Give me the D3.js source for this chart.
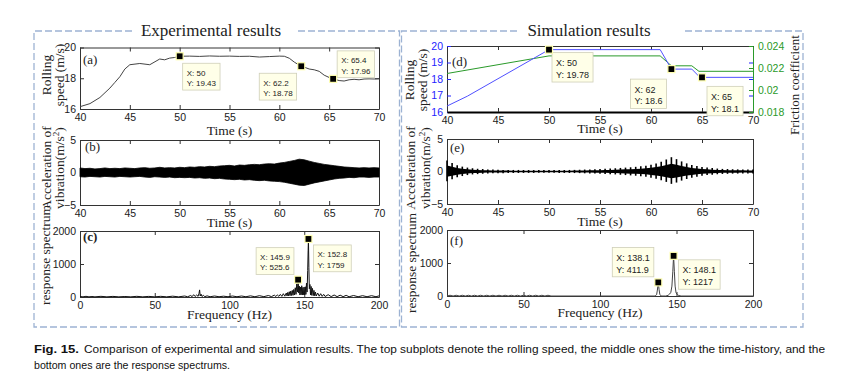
<!DOCTYPE html>
<html><head><meta charset="utf-8">
<script src="https://cdn.jsdelivr.net/npm/d3@7"></script>
<style>body{margin:0;background:#fff}svg{display:block}</style>
</head><body>
<svg id="c" width="848" height="378"></svg>
<script>
// ---------------- DATA ----------------
const timeTicks = [40,45,50,55,60,65,70];
const freqTicks = [0,50,100,150,200];
const speedTicks = [16,18,20];
const simSpeedTicks = [16,17,18,19,20];
const frictionTicks = [0.018,0.02,0.022,0.024];
const frictionTickLabels = ["0.018","0.02","0.022","0.024"];
const vibTicks = [-5,0,5];
const specTicks = [0,1000,2000];

// (a) experimental rolling speed
const expSpeedT = [40,41,42,43,43.5,44,44.5,45,46,47,48,48.5,49,49.5,50,51,52,53,54,55,56,57,58,59,60,60.5,61,61.5,62,62.2,62.5,63,63.5,64,64.5,65,65.4,66,66.5,67,67.5,68,68.5,69,69.5,70];
const expSpeed  = [16.15,16.35,16.75,17.36,17.73,18.1,18.6,18.88,18.96,18.88,19.25,19.2,19.31,19.35,19.43,19.44,19.42,19.45,19.43,19.44,19.42,19.43,19.38,19.41,19.44,19.43,19.3,19.05,18.85,18.78,18.72,18.6,18.55,18.45,18.2,18.05,17.96,17.85,17.82,17.9,17.93,17.9,17.95,17.96,17.95,17.97];

// (b) experimental vibration envelope (upper / lower)
const vibT = [40,40.5,41,41.5,42,42.5,43,43.5,44,44.5,45,45.5,46,46.5,47,47.5,48,48.5,49,49.5,50,50.5,51,51.5,52,52.5,53,53.5,54,54.5,55,55.5,56,56.5,57,57.5,58,58.5,59,59.5,60,60.5,61,61.5,62,62.5,63,63.5,64,64.5,65,65.5,66,66.5,67,67.5,68,68.5,69,69.5,70];
const expVibUp = [0.7,0.6,0.65,0.55,0.6,0.7,0.6,0.65,0.6,0.7,0.65,0.6,0.7,0.75,0.65,0.7,0.8,0.7,0.75,0.7,0.8,0.75,0.85,0.8,0.9,0.85,0.95,0.9,1.0,1.05,1.1,1.0,1.15,1.1,1.2,1.25,1.2,1.3,1.35,1.3,1.45,1.55,1.7,1.85,2.05,1.95,1.75,1.55,1.4,1.25,1.15,1.05,0.95,0.85,0.8,0.75,0.7,0.75,0.7,0.75,0.7];
const expVibDn = [-0.65,-0.7,-0.6,-0.65,-0.7,-0.6,-0.65,-0.7,-0.6,-0.65,-0.7,-0.65,-0.6,-0.7,-0.75,-0.65,-0.7,-0.75,-0.7,-0.8,-0.75,-0.8,-0.75,-0.85,-0.8,-0.9,-0.85,-0.95,-0.9,-1.0,-1.05,-1.1,-1.05,-1.15,-1.1,-1.2,-1.25,-1.2,-1.3,-1.35,-1.4,-1.5,-1.65,-1.8,-1.95,-2.0,-1.8,-1.6,-1.45,-1.3,-1.15,-1.0,-0.9,-0.85,-0.75,-0.8,-0.7,-0.7,-0.75,-0.7,-0.7];

// (c) experimental response spectrum
const expFreq = [0,2,4,6,8,10,14,18,22,26,30,34,38,42,46,50,54,58,62,66,70,72,74,75,76,77,78,79,79.6,80,80.4,81,81.6,82.5,83.5,85,87,90,93,96,99,102,105,108,111,114,117,120,123,126,128,130,131,132,133,134,135,136,137,138,138.5,139,139.5,140,140.5,141,141.5,142,142.5,143,143.5,144,144.5,145,145.5,145.9,146.3,146.7,147.1,147.5,147.9,148.3,148.7,149.1,149.5,149.9,150.3,150.7,151.1,151.5,151.9,152.3,152.6,152.8,153.1,153.4,153.8,154.2,154.6,155,155.5,156,156.5,157,157.5,158,159,160,161,162,163,164,166,168,170,172,174,176,178,180,183,186,189,192,195,198,200];
const expAmp  = [15,5,20,5,15,5,20,5,18,5,15,5,20,5,18,5,20,5,25,5,30,8,45,10,70,15,60,20,110,215,30,85,15,50,10,35,8,30,8,25,8,30,8,30,8,35,8,40,10,45,12,55,15,65,20,80,20,100,25,120,30,140,35,160,40,180,45,200,50,230,60,280,80,400,150,525.6,120,330,60,300,70,340,60,290,70,300,60,310,80,420,150,800,1400,1759,900,250,380,60,320,50,260,40,200,35,150,30,120,25,100,20,80,15,70,12,60,10,55,10,50,8,45,8,40,8,40,8,35];

// (d) simulation rolling speed and friction coefficient
const simSpeedT = [40,42,50,60.9,62,64,64.8,65,70];
const simSpeed  = [16.36,16.96,19.78,19.78,18.6,18.6,18.1,18.1,18.1];
const frictionT = [40,50,60.9,62,64,64.7,70];
const friction  = [0.0215,0.0231,0.0231,0.0222,0.0222,0.0217,0.0217];

// (e) simulation vibration envelope
const simVibUp = [1.7,1.3,0.95,0.75,0.6,0.5,0.42,0.38,0.32,0.3,0.27,0.25,0.25,0.24,0.24,0.23,0.23,0.22,0.22,0.22,0.22,0.22,0.23,0.23,0.24,0.25,0.27,0.3,0.32,0.35,0.38,0.42,0.45,0.5,0.55,0.6,0.65,0.72,0.8,0.9,1.05,1.25,1.5,1.85,2.2,1.9,1.55,1.25,1.0,0.85,0.7,0.6,0.52,0.45,0.4,0.38,0.35,0.33,0.32,0.3,0.3];
const simVibDn = [-1.5,-1.2,-0.9,-0.7,-0.55,-0.45,-0.4,-0.35,-0.3,-0.28,-0.25,-0.25,-0.24,-0.23,-0.23,-0.22,-0.22,-0.22,-0.21,-0.21,-0.21,-0.21,-0.22,-0.22,-0.23,-0.24,-0.25,-0.28,-0.3,-0.32,-0.35,-0.38,-0.42,-0.45,-0.5,-0.55,-0.6,-0.65,-0.72,-0.8,-0.95,-1.1,-1.35,-1.6,-1.9,-1.7,-1.4,-1.15,-0.95,-0.8,-0.65,-0.55,-0.5,-0.42,-0.38,-0.36,-0.33,-0.32,-0.3,-0.3,-0.3];

// (f) simulation response spectrum
const simFreq = [0,2,4,6,8,10,12,14,16,18,20,22,24,26,28,30,32,34,36,38,40,42,44,46,48,50,52,54,56,58,60,62,64,66,68,100,130,136,137,137.5,138.1,138.6,139.1,140,143,144.5,145.5,146.3,147,147.6,148.1,148.6,149.1,149.7,150.5,151.5,153,200];
const simAmp  = [0,22,0,22,0,22,0,22,0,22,0,22,0,22,0,22,0,22,0,22,0,22,0,22,0,22,0,22,0,22,0,22,0,22,0,0,0,0,40,180,411.9,200,50,0,0,20,60,110,300,750,1217,750,300,100,40,15,0,0];

// data tips
const tipsA = [{x:50,y:19.43,t:["X: 50","Y: 19.43"]},{x:62.2,y:18.78,t:["X: 62.2","Y: 18.78"]},{x:65.4,y:17.96,t:["X: 65.4","Y: 17.96"]}];
const tipsC = [{x:145.9,y:525.6,t:["X: 145.9","Y: 525.6"]},{x:152.8,y:1759,t:["X: 152.8","Y: 1759"]}];
const tipsD = [{x:50,y:19.78,t:["X: 50","Y: 19.78"]},{x:62,y:18.6,t:["X: 62","Y: 18.6"]},{x:65,y:18.1,t:["X: 65","Y: 18.1"]}];
const tipsF = [{x:138.1,y:411.9,t:["X: 138.1","Y: 411.9"]},{x:148.1,y:1217,t:["X: 148.1","Y: 1217"]}];

// ---------------- LAYOUT / STYLE ----------------
const SANS = "'Liberation Sans', Arial, sans-serif";
const SERIF = "'Liberation Serif', 'Times New Roman', serif";
const svg = d3.select("#c");
const L = {x0:80, x1:379}, R = {x0:447, x1:753};
const tipOff = {a:[[3,7],[-42,7],[4,-28]], c:[[-42,-32],[5,6]], d:[[3,3],[-41,10],[5,9]], f:[[-46,-35],[5,4]]};
const fmt = d => String(d).replace("-", "\u2212");

function styleAxis(sel, color){
  sel.select(".domain").attr("stroke", "#333").attr("stroke-width",1);
  sel.selectAll(".tick line").attr("stroke", color||"#333");
  sel.selectAll(".tick text").attr("font-family", SANS).attr("font-size", 10.5).attr("fill", color||"#1a1a1a");
}
function frame(x, y, xt, yt, opt={}){
  const g = svg.append("g");
  const [x0,x1] = x.range(), [yb,yt0] = y.range();
  g.append("g").attr("transform",`translate(0,${yt0})`)
    .call(d3.axisTop(x).tickValues(xt).tickSize(-4).tickSizeOuter(0).tickFormat("")).call(s=>styleAxis(s));
  if(!opt.noRight) g.append("g").attr("transform",`translate(${x1},0)`)
    .call(d3.axisRight(y).tickValues(yt).tickSize(-4).tickSizeOuter(0).tickFormat("")).call(s=>styleAxis(s, opt.rightTickColor));
  g.append("g").attr("transform",`translate(${x0},0)`)
    .call(d3.axisLeft(y).tickValues(yt).tickSize(-4).tickSizeOuter(0).tickPadding(4).tickFormat(fmt)).call(s=>styleAxis(s, opt.yColor))
    .call(s=>s.select(".domain").attr("stroke","#333"));
  const bx = g.append("g").attr("transform",`translate(0,${yb})`)
    .call(d3.axisBottom(x).tickValues(xt).tickSize(-4).tickSizeOuter(0).tickPadding(5).tickFormat(fmt)).call(s=>styleAxis(s));
  if(opt.thickBottom) bx.select(".domain").attr("stroke","#000").attr("stroke-width",2);
  return g;
}
function tips(g, x, y, list, offs, fs){
  list.forEach((d,i)=>{
    const px = x(d.x), py = y(d.y);
    const bx = px + offs[i][0], by = py + offs[i][1];
    const tg = g.append("g");
    const rect = tg.append("rect").attr("x",bx).attr("y",by).attr("fill","#ffffe8").attr("stroke","#cfcfb8").attr("stroke-width",0.8);
    let w = 0;
    d.t.forEach((s,j)=>{
      const t = tg.append("text").attr("x",bx+4).attr("y",by+4+fs*(j+1)*1.3-fs*0.25)
        .attr("font-family",SANS).attr("font-size",fs).attr("fill","#222").text(s);
      w = Math.max(w, t.node().getComputedTextLength());
    });
    rect.attr("width", w+8).attr("height", fs*2.6+6);
    g.append("rect").attr("x",px-3.5).attr("y",py-3.5).attr("width",7).attr("height",7)
      .attr("fill","#000").attr("stroke","#ffffb0").attr("stroke-width",1.2);
  });
}
function vlabel(x, y, lines, fs){
  return svg.append("text").attr("transform",`translate(${x},${y}) rotate(-90)`)
    .attr("text-anchor","middle").attr("font-family",SERIF).attr("font-size",fs||13.5).attr("fill","#222");
}
function hlabel(x, y, s, fs){
  svg.append("text").attr("x",x).attr("y",y).attr("text-anchor","middle").attr("font-family",SERIF)
    .attr("font-size",fs||13.5).attr("fill","#222").text(s);
}
function panelTag(x,y,s,bold){
  svg.append("text").attr("x",x).attr("y",y).attr("font-family",SERIF).attr("font-size",13)
    .attr("font-weight",bold?"bold":"normal").attr("fill","#222").text(s);
}

// ---------------- BORDERS & TITLES ----------------
function dashedBox(x0,y0,x1,y1,g0,g1){
  const p = `M${g0},${y0}H${x0}V${y1}H${x1}V${y0}H${g1}`;
  svg.append("path").attr("d",p).attr("fill","none").attr("stroke","#9db3d3").attr("stroke-width",1.3).attr("stroke-dasharray","7,3");
}
dashedBox(34,31,399.5,327,132,297);
dashedBox(401.5,31,803,327,517,682);
svg.append("text").attr("x",211).attr("y",36).attr("text-anchor","middle").attr("font-family",SERIF).attr("font-size",17).attr("fill","#222").text("Experimental results");
svg.append("text").attr("x",589).attr("y",36).attr("text-anchor","middle").attr("font-family",SERIF).attr("font-size",17).attr("fill","#222").text("Simulation results");

// ---------------- (a) ----------------
{
  const x = d3.scaleLinear().domain([40,70]).range([L.x0,L.x1]);
  const y = d3.scaleLinear().domain([16,20]).range([109,47.5]);
  const g = frame(x,y,timeTicks,speedTicks);
  g.append("path").datum(expSpeedT.map((t,i)=>[t,expSpeed[i]]))
    .attr("d",d3.line().x(d=>x(d[0])).y(d=>y(d[1]))).attr("fill","none").attr("stroke","#444").attr("stroke-width",1);
  tips(g,x,y,tipsA,tipOff.a,8);
  panelTag(83,64,"(a)");
  hlabel((L.x0+L.x1)/2,135,"Time (s)");
  vlabel(51,75).text("Rolling");
  vlabel(64,75).text("speed (m/s)");
}
// ---------------- (b) ----------------
{
  const x = d3.scaleLinear().domain([40,70]).range([L.x0,L.x1]);
  const y = d3.scaleLinear().domain([-5,5]).range([205,140]);
  const g = frame(x,y,timeTicks,vibTicks);
  g.append("path").datum(vibT.map((t,i)=>[t,expVibUp[i],expVibDn[i]]))
    .attr("d",d3.area().x(d=>x(d[0])).y0(d=>y(d[2])).y1(d=>y(d[1]))).attr("fill","#000").attr("stroke","#000").attr("stroke-width",0.8);
  panelTag(85,151,"(b)");
  hlabel((L.x0+L.x1)/2,227,"Time (s)");
  vlabel(51,168).text("Acceleration of");
  const v = vlabel(64,168); v.append("tspan").text("vibration(m/s"); v.append("tspan").attr("baseline-shift","super").attr("font-size",9).text("2"); v.append("tspan").text(")");
}
// ---------------- (c) ----------------
{
  const x = d3.scaleLinear().domain([0,200]).range([L.x0,L.x1]);
  const y = d3.scaleLinear().domain([0,2000]).range([297,231]);
  const g = frame(x,y,freqTicks,specTicks);
  g.append("path").datum(expFreq.map((f,i)=>[f,expAmp[i]]))
    .attr("d",d3.line().x(d=>x(d[0])).y(d=>y(d[1]))).attr("fill","none").attr("stroke","#111").attr("stroke-width",1);
  tips(g,x,y,tipsC,tipOff.c,8);
  panelTag(83,241,"(c)",true);
  hlabel((L.x0+L.x1)/2,319,"Frequency (Hz)");
  vlabel(50,255).text("response spectrum");
}
// ---------------- (d) ----------------
{
  const x = d3.scaleLinear().domain([40,70]).range([R.x0,R.x1]);
  const y = d3.scaleLinear().domain([16,20]).range([112,46]);
  const y2 = d3.scaleLinear().domain([0.018,0.024]).range([112,46]);
  const g = frame(x,y,timeTicks,simSpeedTicks,{yColor:"#2323ff",rightTickColor:"#2323ff",thickBottom:true});
  const ra = g.append("g").attr("transform",`translate(${R.x1},0)`)
    .call(d3.axisRight(y2).tickValues(frictionTicks).tickSize(-4).tickSizeOuter(0).tickPadding(5).tickFormat((d,i)=>frictionTickLabels[i]));
  styleAxis(ra,"#2a9a2a"); ra.select(".domain").attr("stroke","#2a9a2a");
  g.append("path").datum(frictionT.map((t,i)=>[t,friction[i]]))
    .attr("d",d3.line().x(d=>x(d[0])).y(d=>y2(d[1]))).attr("fill","none").attr("stroke","#2a9a2a").attr("stroke-width",1);
  g.append("path").datum(simSpeedT.map((t,i)=>[t,simSpeed[i]]))
    .attr("d",d3.line().x(d=>x(d[0])).y(d=>y(d[1]))).attr("fill","none").attr("stroke","#5050ff").attr("stroke-width",1);
  tips(g,x,y,tipsD,tipOff.d,9);
  panelTag(452,66,"(d)");
  hlabel((R.x0+R.x1)/2,133,"Time (s)");
  vlabel(414,80).text("Rolling");
  vlabel(427,80).text("speed (m/s)");
  vlabel(799,85,null,13).text("Friction coefficient");
}
// ---------------- (e) ----------------
{
  const x = d3.scaleLinear().domain([40,70]).range([R.x0,R.x1]);
  const y = d3.scaleLinear().domain([-5,5]).range([204,139]);
  const g = frame(x,y,timeTicks,vibTicks);
  const pts = vibT.map((t,i)=>[t,simVibUp[i],simVibDn[i]]);
  g.append("path").datum(pts)
    .attr("d",d3.area().x(d=>x(d[0])).y0(d=>y(d[2]*0.55)).y1(d=>y(d[1]*0.55))).attr("fill","#000");
  g.selectAll("line.s").data(pts).join("line").attr("class","s")
    .attr("x1",d=>x(d[0])).attr("x2",d=>x(d[0])).attr("y1",d=>y(d[1])).attr("y2",d=>y(d[2]))
    .attr("stroke","#000").attr("stroke-width",1.6);
  panelTag(450,152,"(e)");
  hlabel((R.x0+R.x1)/2,226,"Time (s)");
  vlabel(415,168).text("Acceleration of");
  const v = vlabel(430,168); v.append("tspan").text("vibration(m/s"); v.append("tspan").attr("baseline-shift","super").attr("font-size",9).text("2"); v.append("tspan").text(")");
}
// ---------------- (f) ----------------
{
  const x = d3.scaleLinear().domain([0,200]).range([R.x0,R.x1]);
  const y = d3.scaleLinear().domain([0,2000]).range([296,230]);
  const g = frame(x,y,freqTicks,specTicks);
  g.append("path").datum(simFreq.map((f,i)=>[f,simAmp[i]]))
    .attr("d",d3.line().x(d=>x(d[0])).y(d=>y(d[1]))).attr("fill","none").attr("stroke","#444").attr("stroke-width",1);
  tips(g,x,y,tipsF,tipOff.f,9);
  panelTag(450,245,"(f)");
  hlabel((R.x0+R.x1)/2,317,"Frequency (Hz)");
  vlabel(416,263).text("response spectrum");
}

// ---------------- CAPTION ----------------
const capFont = "'Liberation Sans Narrow', 'Arial Narrow', 'Liberation Sans', sans-serif";
svg.append("text").attr("x",34).attr("y",353).attr("font-family",capFont).attr("font-size",11.5).attr("font-weight","bold")
  .attr("textLength",45).attr("lengthAdjust","spacingAndGlyphs").attr("fill","#111").text("Fig. 15.");
svg.append("text").attr("x",84).attr("y",353).attr("font-family",capFont).attr("font-size",11.5)
  .attr("textLength",741).attr("lengthAdjust","spacingAndGlyphs").attr("fill","#111")
  .text("Comparison of experimental and simulation results. The top subplots denote the rolling speed, the middle ones show the time-history, and the");
svg.append("text").attr("x",34).attr("y",369).attr("font-family",capFont).attr("font-size",11.5)
  .attr("textLength",196).attr("lengthAdjust","spacingAndGlyphs").attr("fill","#111")
  .text("bottom ones are the response spectrums.");
</script>
</body></html>
